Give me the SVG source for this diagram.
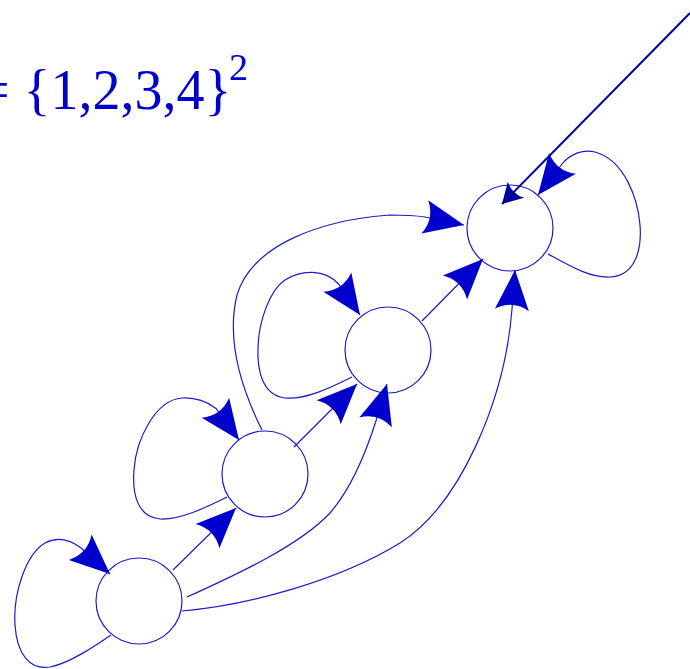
<svg xmlns="http://www.w3.org/2000/svg" width="690" height="669" viewBox="0 0 690 669">
<style>
.node{fill:#ffffff;stroke:#1a1acc;stroke-width:1.2}
.edge{fill:none;stroke:#1a1acc;stroke-width:1.2}
.big{fill:none;stroke:#0000a0;stroke-width:2}
.lbl{font-family:"Liberation Serif","Times New Roman",serif;fill:#0000cc}
</style>
<defs>
<marker id="ah" markerUnits="userSpaceOnUse" viewBox="0 -18 42 36" markerWidth="42" markerHeight="36" refX="40" refY="0" orient="auto" overflow="visible">
<path d="M40,0 L0,-17 Q10,0 0,17 Z" fill="#0000cc"/>
</marker>
<marker id="ahs" markerUnits="userSpaceOnUse" viewBox="0 -12 22 24" markerWidth="22" markerHeight="24" refX="20" refY="0" orient="auto" overflow="visible">
<path d="M20,0 L0,-11.5 Q6,0 0,11.5 Z" fill="#00009a"/>
</marker>
</defs>
<rect width="690" height="669" fill="#ffffff"/>
<text class="lbl" x="-22" y="109" font-size="56">= {1,2,3,4}<tspan x="229" y="80" font-size="38">2</tspan></text>
<g id="nodes">
<g id="n1"><circle class="node" cx="139" cy="601" r="43"/></g>
<g id="n2"><circle class="node" cx="265" cy="474" r="43"/></g>
<g id="n3"><circle class="node" cx="388" cy="350" r="43"/></g>
<g id="n4"><circle class="node" cx="510" cy="228" r="43"/></g>
</g>
<g id="connectors">
<path class="big" d="M690,13 L502,204" marker-end="url(#ahs)"/>
<path class="edge" d="M173,570 L236,508" marker-end="url(#ah)"/>
<path class="edge" d="M294,447 L357,384" marker-end="url(#ah)"/>
<path class="edge" d="M422,321 L483,259" marker-end="url(#ah)"/>
<path class="edge" d="M187,597 C240,573 300,545 330,513 C350,490 365,455 375.5,422.5 L387,384" marker-end="url(#ah)"/>
<path class="edge" d="M182,611 C250,605 340,580 400,543 C460,505 505,400 512,309 L515,270" marker-end="url(#ah)"/>
<path class="edge" d="M262,430 C242,390 226,340 237,295 C252,245 320,220 390,215 C405,215 415,215.5 425,217 L464,225" marker-end="url(#ah)"/>
<path class="edge" d="M548,254 C570,266 590,278 610,277 C635,276 642,250 640,225 C638,200 625,160 595,152 C583,149 570,154 562,164 L538,195" marker-end="url(#ah)"/>
<path class="edge" d="M352,377 C330,388 305,400 285,398 C262,395 257,370 258,347 C259,320 270,290 285,280 C300,270 325,268 339,284.5 L360,315" marker-end="url(#ah)"/>
<path class="edge" d="M227,497 C205,508 180,520 160,519 C138,517 132,495 134,470 C136,440 155,400 182,398 C195,397 208,402 216,408.5 L239,440" marker-end="url(#ah)"/>
<path class="edge" d="M111,635 C95,646 70,663 50,667 C30,670 17,655 15,625 C13,595 25,555 45,543 C58,536 70,540 80.5,547.5 L110,574" marker-end="url(#ah)"/>
</g>
</svg>
